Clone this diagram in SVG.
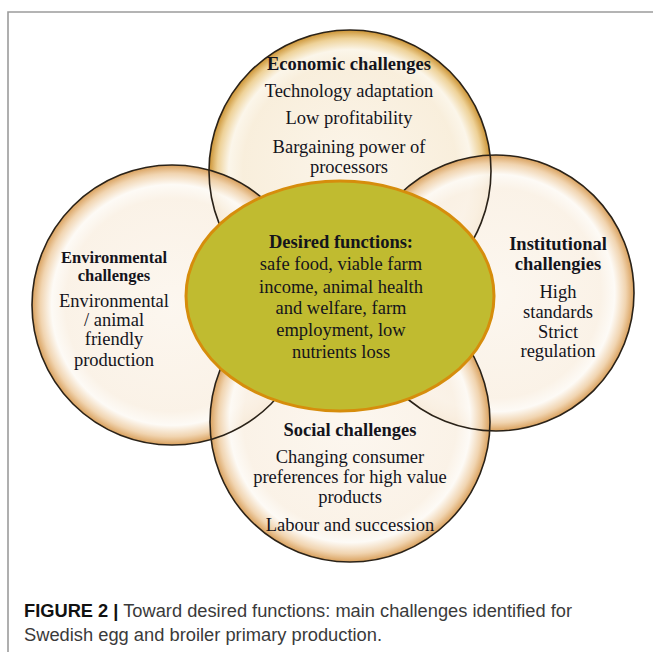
<svg xmlns="http://www.w3.org/2000/svg" width="653" height="652" viewBox="0 0 653 652">
  <defs>
    <radialGradient id="rimTan" cx="0.5" cy="0.5" r="0.5">
      <stop offset="0" stop-color="#FCF6EE" stop-opacity="0.92"/>
      <stop offset="0.76" stop-color="#FAF1E5" stop-opacity="0.92"/>
      <stop offset="0.86" stop-color="#FDFAF5" stop-opacity="0.92"/>
      <stop offset="0.94" stop-color="#F0D2AC" stop-opacity="0.95"/>
      <stop offset="1" stop-color="#D9A05C"/>
    </radialGradient>
    <radialGradient id="rimGold" cx="0.5" cy="0.5" r="0.5">
      <stop offset="0" stop-color="#FBF4E8" stop-opacity="0.92"/>
      <stop offset="0.76" stop-color="#F8EDD9" stop-opacity="0.92"/>
      <stop offset="0.86" stop-color="#FBF5E8" stop-opacity="0.92"/>
      <stop offset="0.94" stop-color="#EDCF92" stop-opacity="0.95"/>
      <stop offset="1" stop-color="#CB9232"/>
    </radialGradient>
    <style>
      .ring { fill: none; stroke: #2a2218; stroke-width: 1.6; }
      .t { font-family: "Liberation Serif", "Times New Roman", serif; font-size: 18.5px; fill: #14141c; text-anchor: middle; }
      .b { font-weight: bold; }
      .cap { font-family: "Liberation Sans", Arial, sans-serif; font-size: 17.5px; fill: #3a3a3a; }
      .capb { font-weight: bold; fill: #111; }
    </style>
  </defs>

  <rect width="653" height="652" fill="#ffffff"/>

  <!-- frame -->
  <path d="M8 652 V12 H653" fill="none" stroke="#9c9c9c" stroke-width="1.6"/>

  <!-- circle fills -->
  <g id="economic">
    <circle cx="350" cy="171" r="141" fill="url(#rimGold)"/>
  </g>
  <g id="environmental">
    <circle cx="172" cy="305" r="140" fill="url(#rimTan)"/>
  </g>
  <g id="institutional">
    <circle cx="496" cy="293" r="138" fill="url(#rimTan)"/>
  </g>
  <g id="social">
    <circle cx="350" cy="422" r="140" fill="url(#rimTan)"/>
  </g>

  <!-- circle outlines -->
  <g id="outlines">
    <circle class="ring" cx="350" cy="171" r="141"/>
    <circle class="ring" cx="172" cy="305" r="140"/>
    <circle class="ring" cx="496" cy="293" r="138"/>
    <circle class="ring" cx="350" cy="422" r="140"/>
  </g>

  <!-- centre -->
  <g id="desired">
    <ellipse cx="340" cy="296" rx="154" ry="115" fill="#C0BB30" stroke="#D68D0C" stroke-width="3"/>
    <text class="t" x="341"><tspan class="b" x="341" y="248">Desired functions:</tspan><tspan x="341" y="270">safe food, viable farm</tspan><tspan x="341" y="293">income, animal health</tspan><tspan x="341" y="314">and welfare, farm</tspan><tspan x="341" y="336">employment, low</tspan><tspan x="341" y="358">nutrients loss</tspan></text>
  </g>

  <!-- circle texts -->
  <g id="economic-text">
    <text class="t"><tspan class="b" x="349" y="70">Economic challenges</tspan><tspan x="349" y="97">Technology adaptation</tspan><tspan x="349" y="124">Low profitability</tspan><tspan x="349" y="153">Bargaining power of</tspan><tspan x="349" y="173">processors</tspan></text>
  </g>
  <g id="environmental-text">
    <text class="t"><tspan class="b" x="114" y="263" style="font-size:16.5px">Environmental</tspan><tspan class="b" x="114" y="281" style="font-size:16.5px">challenges</tspan><tspan x="114" y="307">Environmental</tspan><tspan x="114" y="326">/ animal</tspan><tspan x="114" y="345">friendly</tspan><tspan x="114" y="366">production</tspan></text>
  </g>
  <g id="institutional-text">
    <text class="t"><tspan class="b" x="558" y="250">Institutional</tspan><tspan class="b" x="558" y="270">challengies</tspan><tspan x="558" y="298">High</tspan><tspan x="558" y="318">standards</tspan><tspan x="558" y="338">Strict</tspan><tspan x="558" y="357">regulation</tspan></text>
  </g>
  <g id="social-text">
    <text class="t"><tspan class="b" x="350" y="436">Social challenges</tspan><tspan x="350" y="463">Changing consumer</tspan><tspan x="350" y="483">preferences for high value</tspan><tspan x="350" y="503">products</tspan><tspan x="350" y="531">Labour and succession</tspan></text>
  </g>

  <!-- caption -->
  <text class="cap" x="24" y="617" textLength="548" lengthAdjust="spacingAndGlyphs"><tspan class="capb">FIGURE 2 |</tspan> Toward desired functions: main challenges identified for</text>
  <text class="cap" x="24" y="641" textLength="358" lengthAdjust="spacingAndGlyphs">Swedish egg and broiler primary production.</text>
</svg>
